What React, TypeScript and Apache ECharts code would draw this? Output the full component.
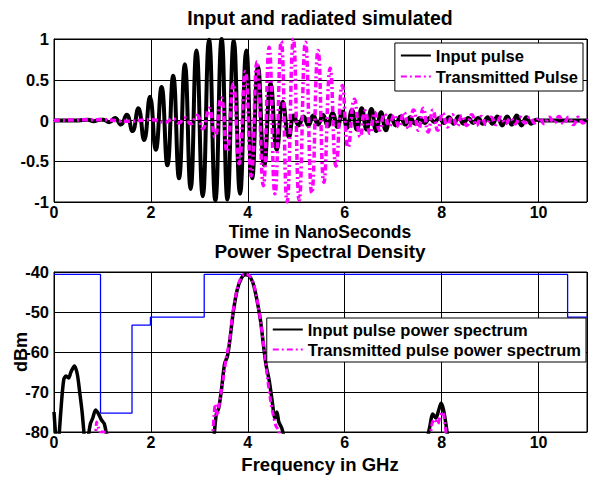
import React, { useEffect, useRef } from "react";
import * as echarts from "echarts";

const FONT = '"Liberation Sans", Arial, sans-serif';

// Top panel: time (ns) vs normalized amplitude, read at the extrema of the oscillation
const inputPulse: [number, number][] = [
  [0, 0], [0.5, 0], [0.7, 0.01], [0.82, -0.01], [0.94, 0.01],
  [1.02, 0.01], [1.14, -0.02], [1.26, 0.03], [1.38, -0.05], [1.5, 0.07],
  [1.62, -0.13], [1.74, 0.15], [1.86, -0.24], [1.98, 0.29], [2.1, -0.36],
  [2.22, 0.41], [2.34, -0.55], [2.46, 0.55], [2.58, -0.71], [2.7, 0.69],
  [2.82, -0.84], [2.94, 0.86], [3.07, -0.93], [3.2, 0.99], [3.33, -0.98],
  [3.46, 1.0], [3.58, -0.97], [3.71, 0.98], [3.84, -0.9], [3.97, 0.86],
  [4.09, -0.71], [4.21, 0.66], [4.34, -0.55], [4.47, 0.45], [4.6, -0.36],
  [4.72, 0.23], [4.85, -0.2], [4.95, 0.06], [5.05, -0.06], [5.15, 0.05],
  [5.25, -0.06], [5.35, 0.06], [5.45, -0.05], [5.55, 0.07], [5.65, -0.07],
  [5.75, 0.09], [5.85, -0.08], [5.95, 0.11], [6.05, -0.09], [6.15, 0.13],
  [6.25, -0.11], [6.35, 0.15], [6.45, -0.11], [6.55, 0.14], [6.65, -0.13],
  [6.75, 0.1], [6.85, -0.12], [6.95, 0.06], [7.05, -0.06], [7.15, 0.05],
  [7.25, -0.05], [7.35, 0.04], [7.45, -0.04], [7.55, 0.03], [7.65, -0.03],
  [7.75, 0.03], [7.85, -0.02], [7.95, 0.03], [8.05, -0.03], [8.15, 0.04],
  [8.25, -0.04], [8.35, 0.05], [8.45, -0.04], [8.55, 0.03], [8.65, -0.03],
  [8.75, 0.03], [8.85, -0.04], [8.95, 0.04], [9.05, -0.04], [9.15, 0.05],
  [9.25, -0.06], [9.35, 0.05], [9.45, -0.05], [9.55, 0.06], [9.65, -0.06],
  [9.75, 0.04], [9.85, -0.04], [9.95, 0.01], [10.05, 0.0], [11, 0],
];

const transmittedPulse: [number, number][] = [
  [0, 0], [1.0, 0.01], [1.5, -0.01], [2.0, 0.01], [2.3, -0.02], [2.45, 0.02],
  [2.58, -0.03], [2.7, 0.03], [2.82, -0.04], [2.95, 0.06], [3.07, -0.1],
  [3.2, 0.15], [3.32, -0.2], [3.45, 0.28], [3.57, -0.38], [3.7, 0.45],
  [3.82, -0.53], [3.95, 0.6], [4.07, -0.68], [4.19, 0.72], [4.32, -0.8],
  [4.44, 0.9], [4.56, -0.9], [4.69, 0.97], [4.81, -1.0], [4.94, 1.0],
  [5.06, -0.98], [5.19, 0.96], [5.32, -0.89], [5.45, 0.86], [5.57, -0.76],
  [5.7, 0.64], [5.82, -0.56], [5.95, 0.43], [6.07, -0.33], [6.2, 0.26],
  [6.32, -0.2], [6.42, 0.12], [6.52, -0.16], [6.62, 0.1], [6.72, -0.12],
  [6.82, 0.08], [6.92, -0.07], [7.02, 0.07], [7.12, -0.08], [7.22, 0.1],
  [7.32, -0.1], [7.42, 0.13], [7.52, -0.12], [7.62, 0.15], [7.72, -0.14],
  [7.82, 0.13], [7.92, -0.12], [8.02, 0.09], [8.12, -0.08], [8.22, 0.07],
  [8.32, -0.07], [8.42, 0.06], [8.52, -0.06], [8.62, 0.07], [8.72, -0.06],
  [8.82, 0.05], [8.92, -0.05], [9.02, 0.04], [9.12, -0.05], [9.22, 0.04],
  [9.32, -0.04], [9.42, 0.03], [9.52, -0.04], [9.62, 0.04], [9.72, -0.03],
  [9.82, 0.04], [9.92, -0.03], [10.02, 0.03], [10.12, -0.04], [10.22, 0.04],
  [10.32, -0.03], [10.42, 0.05], [10.52, -0.04], [10.62, 0.04], [10.72, -0.05],
  [10.82, 0.04], [10.92, -0.03], [11, 0.02],
];

// Bottom panel: frequency (GHz) vs dBm; null breaks where the curve drops below -80
const inputSpectrum: [number, number | null][] = [
  [0, -75], [0.04, -82], [0.07, null],
  [0.1, -82], [0.14, -75], [0.2, -67], [0.25, -66], [0.3, -66.5], [0.35, -65],
  [0.42, -63.5], [0.48, -65.5], [0.53, -70], [0.58, -75], [0.63, -82], [0.66, null],
  [0.7, -82], [0.75, -78], [0.8, -76.5], [0.86, -74.5], [0.92, -75.5],
  [0.98, -77], [1.04, -78], [1.1, -82], [1.2, null],
  [3.3, -82], [3.35, -75.5], [3.4, -74], [3.46, -69], [3.52, -63], [3.58, -61],
  [3.63, -57], [3.7, -50], [3.78, -44.5], [3.87, -41.5], [3.95, -40.7],
  [4.02, -40.9], [4.1, -42.5], [4.18, -46.5], [4.26, -52], [4.33, -59],
  [4.38, -63.5], [4.44, -67], [4.5, -72], [4.56, -76.5], [4.6, -75],
  [4.64, -77.5], [4.7, -79], [4.76, -82], [5, null],
  [7.7, -82], [7.75, -79], [7.82, -75.5], [7.88, -76.5], [7.94, -74.5],
  [7.99, -72.8], [8.04, -74.5], [8.1, -79], [8.13, -82],
];

const transmittedSpectrum: [number, number | null][] = [
  [0.86, -82], [0.88, -77.5], [0.92, -79], [0.96, -80], [1.1, -80], [1.13, -82], [1.2, null],
  [3.27, -82], [3.3, -76], [3.33, -73], [3.37, -76], [3.4, -74], [3.45, -70],
  [3.5, -66], [3.56, -61], [3.62, -57.5], [3.68, -51], [3.75, -46],
  [3.82, -42.5], [3.9, -40.8], [3.96, -40.5], [4.04, -41], [4.12, -43],
  [4.2, -47.5], [4.27, -53], [4.34, -59.5], [4.4, -66], [4.46, -71.5],
  [4.52, -75.5], [4.58, -78.5], [4.63, -79.5], [4.67, -82], [5, null],
  [7.76, -82], [7.8, -78], [7.86, -76.8], [7.92, -78], [7.97, -76],
  [8.02, -75], [8.07, -78], [8.1, -82],
];

// Emission mask (step edges in GHz and levels in dBm)
const maskFreq = [0, 0.96, 1.61, 1.99, 3.1, 10.6, 11];
const maskLevel = [-40.6, -75.3, -53.3, -51.3, -40.6, -51.3, -51.3];

export default function App() {
  const ref = useRef<HTMLDivElement>(null);

  useEffect(() => {
    const chart = echarts.init(ref.current!, null, { renderer: "svg" });
    const txt = { color: "#000", fontFamily: FONT, fontWeight: "bold", fontSize: 16.5 };
    const axisBase = {
      axisLine: { show: true, lineStyle: { color: "#000", width: 1 } },
      axisTick: { show: true, inside: true, length: 5, lineStyle: { color: "#000" } },
      splitLine: { show: true, lineStyle: { color: "#000", width: 1 } },
    };
    const xAxisFor = (gridIndex: number) => ({
      gridIndex, type: "value", min: 0, max: 11, interval: 2, ...axisBase,
      axisLabel: { ...txt, fontSize: 16, margin: 2, showMaxLabel: false },
    });
    const label = (text: string, x: number, y: number, size: number, rotation = 0) => ({
      type: "text", x, y, rotation, z: 100,
      style: {
        text, fill: "#000", font: `bold ${size}px ${FONT}`,
        align: "center", verticalAlign: "middle",
      },
    });
    const legendBase = {
      orient: "vertical", selectedMode: false, borderColor: "#000", borderWidth: 1,
      backgroundColor: "#fff", itemWidth: 30, itemHeight: 14, textStyle: txt,
      itemStyle: { opacity: 0 },
    };

    chart.setOption({
      animation: false,
      backgroundColor: "#fff",
      grid: [
        { left: 54, top: 39, width: 533, height: 163, show: true, borderColor: "#000", borderWidth: 1 },
        { left: 54, top: 272, width: 533, height: 160, show: true, borderColor: "#000", borderWidth: 1 },
      ],
      xAxis: [xAxisFor(0), xAxisFor(1)],
      yAxis: [
        { gridIndex: 0, type: "value", min: -1, max: 1, interval: 0.5, ...axisBase, axisLabel: { ...txt, margin: 5 } },
        { gridIndex: 1, type: "value", min: -80, max: -40, interval: 10, ...axisBase, axisLabel: { ...txt, margin: 5 } },
      ],
      legend: [
        { ...legendBase, data: ["Input pulse", "Transmitted Pulse"], right: 6, top: 43, padding: [4, 5, 6, 5], itemGap: 4 },
        { ...legendBase, data: ["Input pulse power spectrum", "Transmitted pulse power spectrum"], right: 3, top: 318, padding: [3, 5, 4, 5], itemGap: 3 },
      ],
      graphic: [
        label("Input and radiated simulated", 320, 18, 19.5),
        label("Time in NanoSeconds", 320, 231.5, 17.5),
        label("Power Spectral Density", 320, 251, 19),
        label("Frequency in GHz", 320, 464, 18.5),
        label("dBm", 21, 352, 18, Math.PI / 2),
      ],
      series: [
        {
          name: "Input pulse", type: "line", xAxisIndex: 0, yAxisIndex: 0, data: inputPulse,
          smooth: 0.5, symbol: "none", clip: true,
          lineStyle: { color: "#000", width: 4 }, itemStyle: { color: "#000" },
        },
        {
          name: "Transmitted Pulse", type: "line", xAxisIndex: 0, yAxisIndex: 0, data: transmittedPulse,
          smooth: 0.5, symbol: "none", clip: true,
          lineStyle: { color: "#ff00ff", width: 3.5, type: [6, 3, 2, 3] }, itemStyle: { color: "#ff00ff" },
        },
        {
          name: "FCC mask", type: "line", xAxisIndex: 1, yAxisIndex: 1,
          data: maskFreq.map((f, i) => [f, maskLevel[i]]), step: "end", symbol: "none", clip: true,
          lineStyle: { color: "#0000ff", width: 1.3 }, itemStyle: { color: "#0000ff" },
        },
        {
          name: "Input pulse power spectrum", type: "line", xAxisIndex: 1, yAxisIndex: 1, data: inputSpectrum,
          smooth: 0.3, symbol: "none", clip: true, connectNulls: false,
          lineStyle: { color: "#000", width: 3.5 }, itemStyle: { color: "#000" },
        },
        {
          name: "Transmitted pulse power spectrum", type: "line", xAxisIndex: 1, yAxisIndex: 1, data: transmittedSpectrum,
          smooth: 0.3, symbol: "none", clip: true, connectNulls: false,
          lineStyle: { color: "#ff00ff", width: 3, type: [6, 3, 2, 3] }, itemStyle: { color: "#ff00ff" },
        },
      ],
    });
    return () => chart.dispose();
  }, []);

  return (
    <div
      ref={ref}
      style={{ position: "fixed", left: 0, top: 0, width: 589, height: 477, background: "#fff" }}
    />
  );
}
